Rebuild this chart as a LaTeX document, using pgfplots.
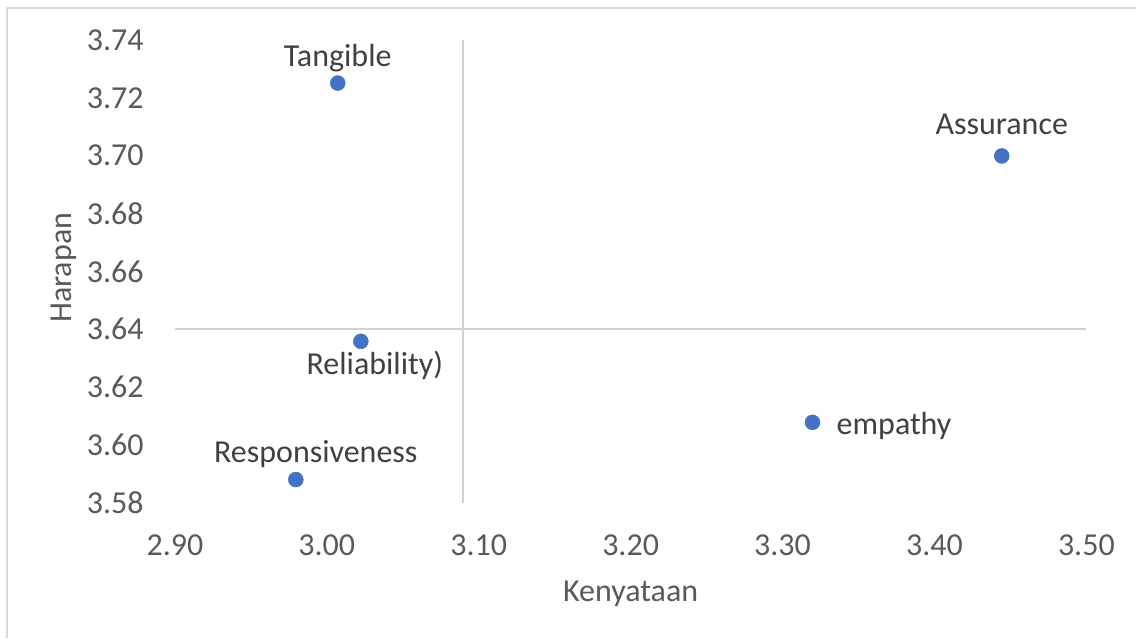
\documentclass[border=0pt]{standalone}
\usepackage{pgfplots}
\pgfplotsset{compat=1.18}
\usepackage{fontspec}
\setmainfont{Carlito}
\definecolor{dotblue}{HTML}{4472C4}
\definecolor{ticktext}{HTML}{595959}
\definecolor{labeltext}{HTML}{404040}
\definecolor{crossline}{HTML}{D0D0D0}
\definecolor{framegray}{HTML}{D9D9D9}

\begin{document}
\begin{tikzpicture}[font=\fontsize{24}{29}\selectfont]
% page extent (1137x638 px at 0.75pt/px), axis box lower-left at origin
\path (-131.25pt,-101.25pt) rectangle (721.5pt,377.25pt);
\draw[framegray, line width=1pt] (-126pt,-101.25pt) -- (-126pt,371.25pt) -- (721.5pt,371.25pt);
\begin{axis}[
  at={(0,0)}, anchor=south west,
  scale only axis, width=684pt, height=347.25pt,
  xmin=2.9, xmax=3.5, ymin=3.58, ymax=3.74,
  xtick={2.9,3.0,3.1,3.2,3.3,3.4,3.5},
  ytick={3.58,3.60,3.62,3.64,3.66,3.68,3.70,3.72,3.74},
  axis line style={draw=none},
  major tick length=0pt,
  clip=false,
  /pgf/number format/fixed,
  /pgf/number format/fixed zerofill,
  /pgf/number format/precision=2,
  /pgf/number format/assume math mode=true,
  tick label style={font=\fontsize{24}{29}\selectfont, text=ticktext},
  xticklabel style={anchor=base, inner sep=0pt, yshift=-39.75pt},
  yticklabel style={anchor=east, inner sep=0pt, xshift=-23.25pt},
  every node near coord/.append style={inner sep=0pt, text=labeltext,
    font=\fontsize{24}{29}\selectfont},
]
% quadrant lines
\addplot[crossline, line width=1.1pt] coordinates {(3.0895,3.58) (3.0895,3.74)};
\addplot[crossline, line width=1.1pt] coordinates {(2.9,3.64) (3.5,3.64)};

% points
\addplot[only marks, mark=*, mark size=5.6pt, dotblue,
  nodes near coords={Tangible},
  every node near coord/.append style={anchor=base, yshift=12.75pt}]
  coordinates {(3.0072,3.7251)};
\addplot[only marks, mark=*, mark size=5.6pt, dotblue,
  nodes near coords={Assurance},
  every node near coord/.append style={anchor=base, yshift=15.75pt}]
  coordinates {(3.4443,3.6999)};
\addplot[only marks, mark=*, mark size=5.6pt, dotblue,
  nodes near coords={Reliability)},
  every node near coord/.append style={anchor=base, xshift=10.5pt, yshift=-24.75pt}]
  coordinates {(3.0224,3.6358)};
\addplot[only marks, mark=*, mark size=5.6pt, dotblue,
  nodes near coords={empathy},
  every node near coord/.append style={anchor=base west, xshift=18pt, yshift=-9pt}]
  coordinates {(3.3197,3.6078)};
\addplot[only marks, mark=*, mark size=5.6pt, dotblue,
  nodes near coords={Responsiveness},
  every node near coord/.append style={anchor=base, xshift=15pt, yshift=12.75pt}]
  coordinates {(2.9796,3.588)};
\end{axis}
\node[anchor=base, text=ticktext] at (342pt,-74.25pt) {Kenyataan};
\node[anchor=base, rotate=90, text=ticktext] at (-77.25pt,176.25pt) {Harapan};
\end{tikzpicture}
\end{document}
